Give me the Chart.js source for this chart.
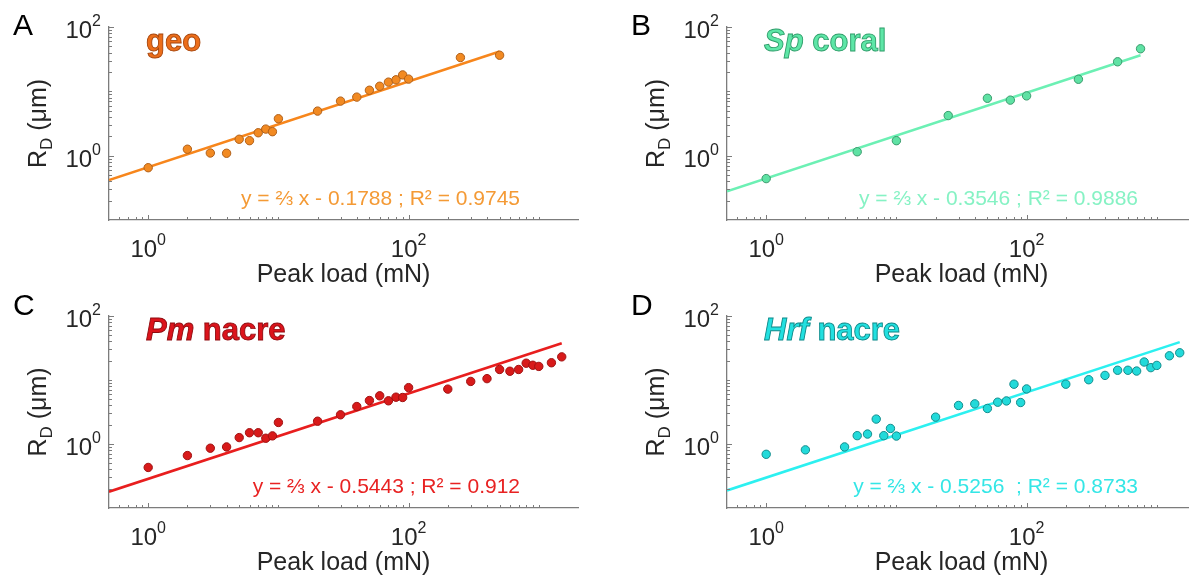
<!DOCTYPE html>
<html>
<head>
<meta charset="utf-8">
<script src="https://cdn.jsdelivr.net/npm/chart.js@4.4.1/dist/chart.umd.min.js"></script>
<style>
  html, body { margin: 0; padding: 0; background: #fff; overflow: hidden; }
  body { width: 1189px; height: 586px; position: relative; }
  canvas { position: absolute; }
</style>
</head>
<body>
<canvas id="chart-geo" width="594" height="293" style="left:0;top:0"></canvas>
<canvas id="chart-coral" width="620" height="293" style="left:594px;top:0"></canvas>
<canvas id="chart-pm" width="594" height="293" style="left:0;top:293px"></canvas>
<canvas id="chart-hrf" width="620" height="293" style="left:594px;top:293px"></canvas>
<script>
// Peak load (mN) and R_D (um) for each material
const geoLoad = [1, 2, 3, 4, 5, 6, 7, 8, 9, 10, 20, 30, 40, 50, 60, 70, 80, 90, 100, 250, 500];
const geoRadius = [0.65, 1.26, 1.10, 1.09, 1.80, 1.71, 2.27, 2.59, 2.36, 3.75, 4.93, 7.05, 8.13, 10.4, 12.0, 13.9, 15.1, 18.0, 15.5, 33.5, 36.4];

const coralLoad = [1, 5, 10, 25, 50, 75, 100, 250, 500, 750];
const coralRadius = [0.44, 1.15, 1.71, 4.2, 7.8, 7.3, 8.5, 15.4, 28.8, 45.9];

const pmLoad = [1, 2, 3, 4, 5, 6, 7, 8, 9, 10, 20, 30, 40, 50, 60, 70, 80, 90, 100, 200, 300, 400, 500, 600, 700, 800, 900, 1000, 1250, 1500];
const pmRadius = [0.43, 0.66, 0.86, 0.90, 1.26, 1.50, 1.50, 1.23, 1.34, 2.17, 2.27, 2.86, 3.85, 4.78, 5.66, 4.73, 5.39, 5.33, 7.6, 7.2, 9.5, 10.5, 14.6, 13.7, 14.6, 18.3, 17.0, 16.3, 18.6, 23.0];

const hrfLoad = [1, 2, 4, 5, 6, 7, 8, 9, 10, 20, 30, 40, 50, 60, 70, 80, 90, 100, 200, 300, 400, 500, 600, 700, 800, 900, 1000, 1250, 1500];
const hrfRadius = [0.69, 0.81, 0.90, 1.35, 1.43, 2.45, 1.35, 1.75, 1.33, 2.63, 4.0, 4.24, 3.59, 4.5, 4.71, 8.6, 4.45, 7.25, 8.6, 10.1, 11.8, 14.2, 14.2, 13.8, 19.1, 15.6, 16.9, 23.9, 26.6];

// log-log fits: log(R) = slope * log(P) + intercept
const fitSlope = 2 / 3;
const fitIntercepts = [-0.1788, -0.3546, -0.5443, -0.5256];
const fitLoadEnds = [500, 750, 1500, 1500];
const equations = [
    'y = \u2154 x - 0.1788 ; R\u00B2 = 0.9745',
    'y = \u2154 x - 0.3546 ; R\u00B2 = 0.9886',
    'y = \u2154 x - 0.5443 ; R\u00B2 = 0.912',
    'y = \u2154 x - 0.5256  ; R\u00B2 = 0.8733'
];

// axes
const loadMin = 0.5, loadMax = 2000;
const radiusMin = 0.1, radiusMax = 100;
const majorTicks = [1, 100];

const FONT = '"Liberation Sans", Arial, Helvetica, sans-serif';
const AXIS_GREY = '#7c7c7c';
const TEXT_DARK = '#262626';

function fitLine(intercept, xEnd) {
    const f = (x) => Math.pow(10, fitSlope * Math.log10(x) + intercept);
    return [{ x: loadMin, y: f(loadMin) }, { x: xEnd, y: f(xEnd) }];
}

function minorTicks(min, max) {
    let out = [];
    for (let dec = 0.1; dec <= 1000; dec *= 10) {
        for (let m = 1; m <= 9; m++) {
            let v = +(m * dec).toPrecision(3);
            if (v > min && v < max && !majorTicks.includes(v)) out.push(v);
        }
    }
    return out;
}

function drawPower(ctx, exp, x, baseY, align) {
    ctx.font = '24px ' + FONT;
    const wBase = ctx.measureText('10').width;
    ctx.font = '16px ' + FONT;
    const wExp = ctx.measureText(exp).width;
    const total = wBase + wExp;
    const x0 = align === 'center' ? x - total / 2 : x - total;
    ctx.textAlign = 'left';
    ctx.font = '24px ' + FONT;
    ctx.fillText('10', x0, baseY);
    ctx.font = '16px ' + FONT;
    ctx.fillText(exp, x0 + wBase, baseY - 12);
}

const panelDecor = {
    id: 'panelDecor',
    afterDraw(chart, args, opts) {
        const { ctx, chartArea: a, scales: { x, y } } = chart;
        ctx.save();

        // inward ticks
        ctx.strokeStyle = AXIS_GREY;
        ctx.lineWidth = 1;
        ctx.beginPath();
        minorTicks(loadMin, loadMax).forEach(v => {
            const px = Math.round(x.getPixelForValue(v)) + 0.5;
            ctx.moveTo(px, a.bottom); ctx.lineTo(px, a.bottom - 3);
        });
        minorTicks(radiusMin, radiusMax).forEach(v => {
            const py = Math.round(y.getPixelForValue(v)) + 0.5;
            ctx.moveTo(a.left, py); ctx.lineTo(a.left + 3, py);
        });
        majorTicks.forEach(v => {
            const px = Math.round(x.getPixelForValue(v)) + 0.5;
            ctx.moveTo(px, a.bottom); ctx.lineTo(px, a.bottom - 5);
            const py = Math.round(y.getPixelForValue(v)) + 0.5;
            ctx.moveTo(a.left, py); ctx.lineTo(a.left + 5, py);
        });
        ctx.stroke();

        // tick labels
        ctx.fillStyle = TEXT_DARK;
        ctx.textBaseline = 'alphabetic';
        majorTicks.forEach(v => {
            const exp = String(Math.round(Math.log10(v)));
            drawPower(ctx, exp, x.getPixelForValue(v), a.bottom + 37, 'center');
            drawPower(ctx, exp, a.left - 8, y.getPixelForValue(v) + 11, 'right');
        });

        // axis titles
        ctx.font = '25px ' + FONT;
        ctx.textAlign = 'center';
        ctx.fillText('Peak load (mN)', (a.left + a.right) / 2, a.bottom + 62);

        ctx.save();
        ctx.translate(a.left - 63, (a.top + a.bottom) / 2);
        ctx.rotate(-Math.PI / 2);
        ctx.textAlign = 'left';
        ctx.font = '25px ' + FONT;
        const wR = ctx.measureText('R').width;
        const wRest = ctx.measureText(' (\u03BCm)').width;
        ctx.font = '17px ' + FONT;
        const wD = ctx.measureText('D').width;
        const x0 = -(wR + wD + wRest) / 2;
        ctx.font = '25px ' + FONT;
        ctx.fillText('R', x0, 0);
        ctx.fillText(' (\u03BCm)', x0 + wR + wD, 0);
        ctx.font = '17px ' + FONT;
        ctx.fillText('D', x0 + wR, 6);
        ctx.restore();

        // panel letter
        ctx.font = '30px ' + FONT;
        ctx.textAlign = 'left';
        ctx.fillStyle = '#000';
        ctx.fillText(opts.letter, a.left - 96, opts.letterY);

        // material name
        let tx = a.left + 37;
        const ty = a.top + 24;
        ctx.fillStyle = opts.color;
        ctx.strokeStyle = opts.edge;
        ctx.lineWidth = 0.9;
        opts.title.forEach(part => {
            ctx.font = (part.italic ? 'italic ' : '') + 'bold 31px ' + FONT;
            ctx.fillText(part.text, tx, ty);
            ctx.strokeText(part.text, tx, ty);
            tx += ctx.measureText(part.text).width;
        });

        // fit equation
        ctx.font = '21px ' + FONT;
        ctx.textAlign = 'right';
        ctx.fillStyle = opts.eqColor;
        ctx.fillText(opts.equation, a.right - 58, a.bottom - 15);

        ctx.restore();
    }
};

function makePanel(id, load, radius, idx, style, layout) {
    const pts = load.map((v, i) => ({ x: v, y: radius[i] }));
    new Chart(document.getElementById(id), {
        type: 'scatter',
        data: {
            datasets: [
                {
                    data: pts,
                    backgroundColor: style.point,
                    borderColor: style.pointEdge,
                    borderWidth: 1,
                    pointRadius: 4.2,
                    order: 0
                },
                {
                    data: fitLine(fitIntercepts[idx], fitLoadEnds[idx]),
                    showLine: true,
                    borderColor: style.line,
                    borderWidth: 2.6,
                    pointRadius: 0,
                    order: 1
                }
            ]
        },
        options: {
            responsive: false,
            animation: false,
            events: [],
            layout: { padding: { left: 0, top: layout.top, right: layout.right, bottom: 0 } },
            plugins: {
                legend: { display: false },
                tooltip: { enabled: false },
                panelDecor: {
                    letter: style.letter,
                    letterY: layout.letterY,
                    title: style.title,
                    color: style.titleColor,
                    edge: style.titleEdge,
                    eqColor: style.eqColor,
                    equation: equations[idx]
                }
            },
            scales: {
                x: {
                    type: 'logarithmic',
                    min: loadMin, max: loadMax,
                    ticks: { display: false },
                    grid: { display: false },
                    border: { display: true, color: AXIS_GREY, width: 1.3 },
                    afterFit: (s) => { s.height = layout.xHeight; }
                },
                y: {
                    type: 'logarithmic',
                    min: radiusMin, max: radiusMax,
                    ticks: { display: false },
                    grid: { display: false },
                    border: { display: true, color: AXIS_GREY, width: 1.3 },
                    afterFit: (s) => { s.width = layout.yWidth; }
                }
            }
        },
        plugins: [panelDecor]
    });
}

window.addEventListener('load', () => {
    makePanel('chart-geo', geoLoad, geoRadius, 0, {
        letter: 'A', title: [{ text: 'geo' }],
        point: '#F28A22', pointEdge: '#B0601A', line: '#F7861C',
        titleColor: '#EC6E1A', titleEdge: '#A8470E', eqColor: '#F49A35'
    }, { top: 27, right: 16, xHeight: 73, yWidth: 109, letterY: 35 });

    makePanel('chart-coral', coralLoad, coralRadius, 1, {
        letter: 'B', title: [{ text: 'Sp', italic: true }, { text: ' coral' }],
        point: '#5FE2A4', pointEdge: '#3A9A6C', line: '#6CF0B4',
        titleColor: '#5EE6A7', titleEdge: '#2E9E6A', eqColor: '#86F2C4'
    }, { top: 27, right: 18, xHeight: 73, yWidth: 133, letterY: 35 });

    makePanel('chart-pm', pmLoad, pmRadius, 2, {
        letter: 'C', title: [{ text: 'Pm', italic: true }, { text: ' nacre' }],
        point: '#D81A1A', pointEdge: '#A01212', line: '#E81E1E',
        titleColor: '#DC141C', titleEdge: '#8E0A0E', eqColor: '#E82222'
    }, { top: 23, right: 16, xHeight: 78, yWidth: 109, letterY: 22 });

    makePanel('chart-hrf', hrfLoad, hrfRadius, 3, {
        letter: 'D', title: [{ text: 'Hrf', italic: true }, { text: ' nacre' }],
        point: '#22DADA', pointEdge: '#138C8C', line: '#2CF0F0',
        titleColor: '#22E0E0', titleEdge: '#0F8A8A', eqColor: '#34E6E6'
    }, { top: 23, right: 18, xHeight: 78, yWidth: 133, letterY: 22 });
});
</script>
</body>
</html>
